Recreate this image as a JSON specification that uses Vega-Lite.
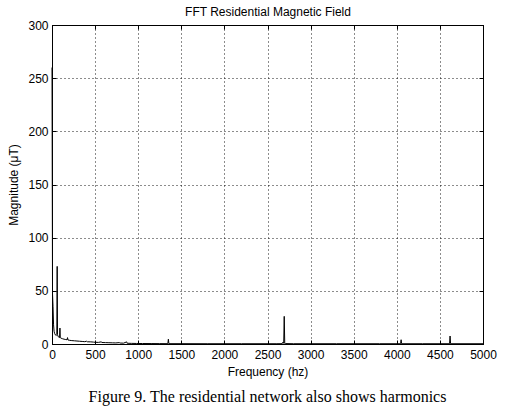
{
  "$schema": "https://vega.github.io/schema/vega-lite/v6.json",
  "width": 431,
  "height": 319,
  "autosize": {"type": "none"},
  "padding": {"left": 52, "top": 25, "right": 22, "bottom": 71},
  "background": "white",
  "title": {
    "text": "Figure 9. The residential network also shows harmonics",
    "orient": "bottom",
    "anchor": "middle",
    "font": "Liberation Serif",
    "fontSize": 16,
    "fontWeight": "normal",
    "color": "black",
    "offset": 12
  },
  "config": {
    "view": {"stroke": "black", "strokeWidth": 1},
    "axis": {
      "labelFont": "Liberation Sans",
      "labelFontSize": 12,
      "labelColor": "black",
      "titleFont": "Liberation Sans",
      "titleFontSize": 12,
      "titleFontWeight": "normal",
      "titleColor": "black",
      "domainColor": "black",
      "tickColor": "black",
      "gridColor": "black",
      "gridDash": [1, 3],
      "gridOpacity": 0.9,
      "labelFlush": false,
      "labelOverlap": false,
      "tickSize": -4,
      "format": "d"
    }
  },
  "data": {
    "values": [
      {"f": 0, "m": 260}, {"f": 6, "m": 47}, {"f": 12, "m": 35}, {"f": 18, "m": 18},
      {"f": 24, "m": 12}, {"f": 30, "m": 10}, {"f": 40, "m": 8.5}, {"f": 50, "m": 8},
      {"f": 56, "m": 9}, {"f": 60, "m": 73}, {"f": 64, "m": 9}, {"f": 70, "m": 7},
      {"f": 80, "m": 6.5}, {"f": 88, "m": 6}, {"f": 92, "m": 15}, {"f": 96, "m": 6},
      {"f": 105, "m": 5.5}, {"f": 120, "m": 5}, {"f": 140, "m": 4.5}, {"f": 160, "m": 4.2},
      {"f": 175, "m": 4}, {"f": 180, "m": 6}, {"f": 185, "m": 3.8}, {"f": 200, "m": 3.5},
      {"f": 230, "m": 3.2}, {"f": 260, "m": 3}, {"f": 290, "m": 2.8}, {"f": 320, "m": 2.6},
      {"f": 350, "m": 2.4}, {"f": 380, "m": 2.2}, {"f": 400, "m": 2.6}, {"f": 410, "m": 2.1},
      {"f": 450, "m": 2}, {"f": 480, "m": 1.8}, {"f": 500, "m": 1.6}, {"f": 540, "m": 1.5},
      {"f": 570, "m": 2.0}, {"f": 580, "m": 1.4}, {"f": 620, "m": 1.3}, {"f": 660, "m": 1.2},
      {"f": 700, "m": 1.1}, {"f": 740, "m": 1.0}, {"f": 780, "m": 1.3}, {"f": 790, "m": 0.9},
      {"f": 830, "m": 0.8}, {"f": 866, "m": 2.0}, {"f": 872, "m": 0.7}, {"f": 920, "m": 0.6},
      {"f": 980, "m": 0.5}, {"f": 1050, "m": 0.45}, {"f": 1150, "m": 0.4}, {"f": 1250, "m": 0.35},
      {"f": 1344, "m": 0.3}, {"f": 1350, "m": 4.5}, {"f": 1356, "m": 0.3}, {"f": 1500, "m": 0.3},
      {"f": 1800, "m": 0.25}, {"f": 2200, "m": 0.25}, {"f": 2600, "m": 0.25}, {"f": 2670, "m": 0.3},
      {"f": 2680, "m": 1.8}, {"f": 2688, "m": 0.6}, {"f": 2694, "m": 26}, {"f": 2700, "m": 0.6},
      {"f": 2710, "m": 0.4}, {"f": 2800, "m": 0.25}, {"f": 3300, "m": 0.25}, {"f": 3800, "m": 0.25},
      {"f": 4044, "m": 0.25}, {"f": 4050, "m": 4}, {"f": 4056, "m": 0.25}, {"f": 4300, "m": 0.25},
      {"f": 4612, "m": 0.25}, {"f": 4618, "m": 7.5}, {"f": 4624, "m": 0.25}, {"f": 5000, "m": 0.25}
    ]
  },
  "layer": [
    {
      "mark": {"type": "line", "color": "black", "strokeWidth": 1, "interpolate": "linear"},
      "encoding": {
        "x": {
          "field": "f", "type": "quantitative",
          "scale": {"domain": [0, 5000], "nice": false, "zero": false},
          "axis": {"orient": "bottom", "title": "Frequency (hz)", "values": [0,500,1000,1500,2000,2500,3000,3500,4000,4500,5000], "grid": true, "labelPadding": 9, "titlePadding": 6}
        },
        "y": {
          "field": "m", "type": "quantitative",
          "scale": {"domain": [0, 300], "nice": false},
          "axis": {"orient": "left", "title": "Magnitude (μT)", "values": [0,50,100,150,200,250,300], "grid": true, "labelPadding": 8, "titlePadding": 7}
        }
      }
    },
    {
      "mark": {"type": "line", "opacity": 0},
      "encoding": {
        "x": {
          "field": "f", "type": "quantitative",
          "scale": {"domain": [0, 5000], "nice": false, "zero": false},
          "axis": {"orient": "top", "title": "FFT Residential Magnetic Field", "labels": false, "grid": false, "values": [0,500,1000,1500,2000,2500,3000,3500,4000,4500,5000], "titlePadding": 6}
        },
        "y": {
          "field": "m", "type": "quantitative",
          "scale": {"domain": [0, 300], "nice": false},
          "axis": {"orient": "right", "title": null, "labels": false, "grid": false, "values": [0,50,100,150,200,250,300]}
        }
      }
    }
  ],
  "resolve": {"axis": {"x": "independent", "y": "independent"}}
}
